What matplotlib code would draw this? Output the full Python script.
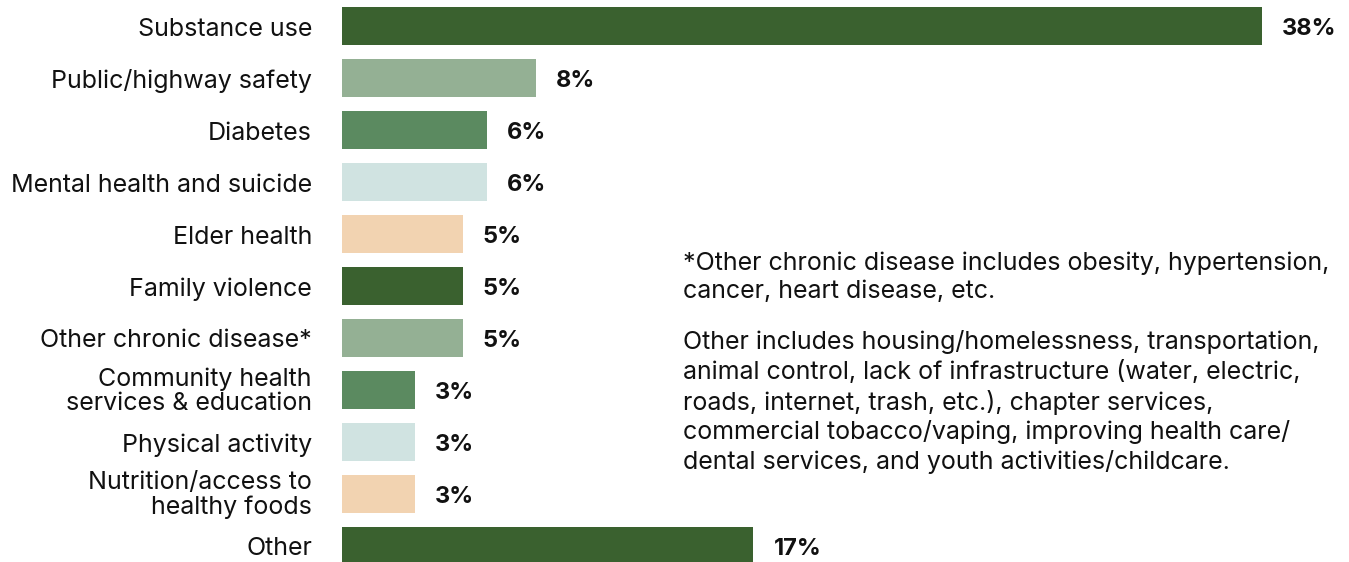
import matplotlib
matplotlib.use("Agg")
import matplotlib.pyplot as plt

# Dados do gráfico
categorias = [
    "Substance use",
    "Public/highway safety",
    "Diabetes",
    "Mental health and suicide",
    "Elder health",
    "Family violence",
    "Other chronic disease*",
    "Community health\nservices & education",
    "Physical activity",
    "Nutrition/access to\nhealthy foods",
    "Other",
]
valores = [38, 8, 6, 6, 5, 5, 5, 3, 3, 3, 17]
cores = ["#3a612f", "#94b094", "#5b8a60", "#d0e3e1", "#f2d3b1",
         "#3a612f", "#94b094", "#5b8a60", "#d0e3e1", "#f2d3b1", "#3a612f"]

nota_1 = "*Other chronic disease includes obesity, hypertension,\ncancer, heart disease, etc."
nota_2 = ("Other includes housing/homelessness, transportation,\n"
          "animal control, lack of infrastructure (water, electric,\n"
          "roads, internet, trash, etc.), chapter services,\n"
          "commercial tobacco/vaping, improving health care/\n"
          "dental services, and youth activities/childcare.")

plt.rcParams["font.family"] = ["Inter", "DejaVu Sans"]

W, H = 1349, 562
fig = plt.figure(figsize=(W / 100, H / 100), dpi=100)
ax = fig.add_axes([342 / W, 0, 1 - 342 / W, 1])

y = list(range(len(categorias)))
ax.barh(y, valores, height=0.73, color=cores)
ax.set_ylim((H - 26) / 52, -0.5)
ax.set_xlim(0, (W - 342) / 24.2)

for i, v in enumerate(valores):
    # rótulos de valor e de categoria
    ax.annotate(f"{v}%", (v, i), xytext=(20, -3), textcoords="offset pixels",
                va="center", ha="left", fontsize=17, fontweight="bold", color="#111111")
    dy = -1 if "\n" in categorias[i] else -3
    ax.annotate(categorias[i], (0, i), xytext=(-30, dy), textcoords="offset pixels",
                va="center", ha="right", fontsize=18, color="#111111", linespacing=1.05)

ax.axis("off")

fig.text(683 / W, 1 - 251 / H, nota_1, ha="left", va="top", fontsize=18,
         color="#111111", linespacing=1.3)
fig.text(683 / W, 1 - 330 / H, nota_2, ha="left", va="top", fontsize=18,
         color="#111111", linespacing=1.3)

fig.savefig("out.png", dpi=100)
